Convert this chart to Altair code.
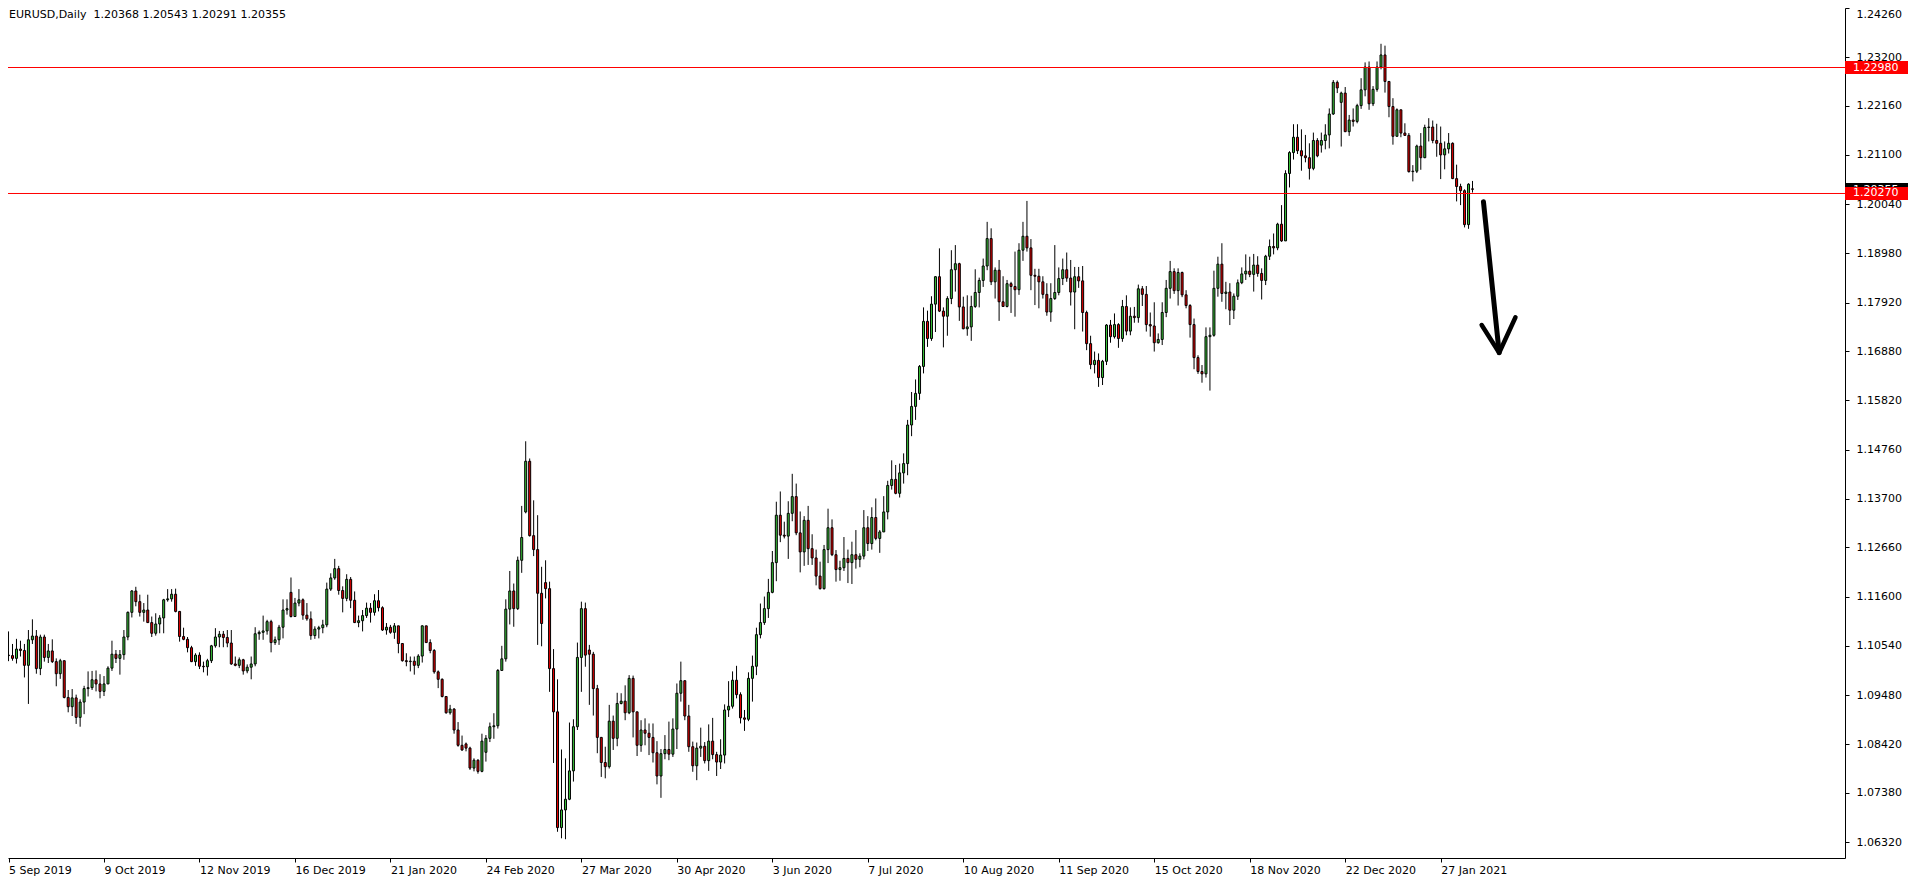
import altair as alt
import pandas as pd

# ---------------- data (prices in 1/10000 units) ----------------
symbol_title = "EURUSD,Daily\u00a0\u00a01.20368 1.20543 1.20291 1.20355"

first_open_pips = 11034

close_pips = [
    11033, 11027, 11047, 11044, 11012, 11067, 11075, 11005, 11073, 11029,
    11043, 11020, 10994, 11022, 10943, 10923, 10942, 10900, 10933, 10962,
    10964, 10981, 10972, 10956, 10972, 11006, 11036, 11027, 11035, 11073,
    11126, 11172, 11149, 11126, 11131, 11104, 11081, 11101, 11114, 11153,
    11155, 11165, 11128, 11074, 11068, 11050, 11020, 11034, 11010, 11009,
    11022, 11054, 11073, 11079, 11072, 11060, 11015, 11012, 11024, 11000,
    11008, 11015, 11080, 11083, 11086, 11106, 11061, 11067, 11094, 11131,
    11134, 11117, 11146, 11153, 11120, 11112, 11076, 11090, 11093, 11099,
    11176, 11200, 11220, 11173, 11156, 11197, 11152, 11104, 11108, 11119,
    11135, 11126, 11151, 11136, 11088, 11094, 11083, 11097, 11059, 11022,
    11020, 11021, 11012, 11032, 11097, 11061, 11044, 10998, 10982, 10945,
    10910, 10918, 10873, 10840, 10830, 10834, 10791, 10808, 10784, 10849,
    10855, 10880, 10882, 11001, 11026, 11133, 11172, 11134, 11238, 11287,
    11451, 11291, 11261, 11167, 11102, 11177, 11005, 10912, 10663, 10701,
    10724, 10785, 10880, 11029, 11134, 11034, 11036, 10962, 10857, 10803,
    10794, 10892, 10855, 10930, 10935, 10910, 10984, 10912, 10840, 10873,
    10866, 10857, 10824, 10774, 10822, 10831, 10821, 10875, 10952, 10979,
    10903, 10837, 10796, 10834, 10838, 10807, 10849, 10820, 10804, 10819,
    10916, 10924, 10980, 10949, 10899, 10896, 10984, 11010, 11078, 11104,
    11134, 11169, 11233, 11335, 11292, 11290, 11339, 11375, 11297, 11256,
    11324, 11263, 11243, 11204, 11177, 11261, 11308, 11250, 11218, 11222,
    11242, 11233, 11250, 11240, 11247, 11308, 11274, 11330, 11285, 11299,
    11342, 11399, 11412, 11382, 11426, 11446, 11529, 11569, 11597, 11655,
    11752, 11715, 11789, 11848, 11774, 11763, 11801, 11863, 11876, 11783,
    11736, 11740, 11784, 11814, 11840, 11871, 11930, 11837, 11862, 11794,
    11784, 11833, 11827, 11820, 11905, 11935, 11910, 11851, 11849, 11837,
    11810, 11772, 11801, 11814, 11844, 11863, 11845, 11815, 11848, 11839,
    11771, 11704, 11659, 11668, 11631, 11666, 11744, 11719, 11745, 11715,
    11784, 11731, 11763, 11760, 11822, 11810, 11745, 11742, 11706, 11713,
    11771, 11823, 11859, 11818, 11857, 11809, 11786, 11745, 11674, 11644,
    11639, 11719, 11722, 11823, 11875, 11812, 11815, 11776, 11806, 11835,
    11854, 11860, 11853, 11873, 11855, 11840, 11892, 11913, 11910, 11961,
    11925, 12070, 12115, 12148, 12119, 12108, 12104, 12081, 12141, 12108,
    12141, 12153, 12198, 12266, 12254, 12243, 12160, 12185, 12182, 12216,
    12250, 12299, 12220, 12251, 12299, 12325, 12268, 12214, 12150, 12207,
    12157, 12152, 12074, 12075, 12129, 12104, 12169, 12170, 12141, 12135,
    12110, 12123, 12135, 12059, 12042, 12033, 11960, 12047, 12036,
]

high_pips = [
    11085, 11058, 11069, 11065, 11058, 11088, 11111, 11088, 11078, 11078,
    11058, 11068, 11027, 11026, 11022, 10959, 10961, 10949, 10939, 10968,
    10999, 11000, 11001, 10993, 10989, 11010, 11065, 11045, 11045, 11088,
    11128, 11174, 11181, 11164, 11146, 11164, 11117, 11124, 11120, 11155,
    11176, 11176, 11177, 11129, 11093, 11073, 11054, 11038, 11040, 11020,
    11026, 11056, 11092, 11086, 11086, 11088, 11088, 11031, 11029, 11026,
    11014, 11031, 11094, 11087, 11119, 11110, 11110, 11074, 11099, 11154,
    11154, 11201, 11157, 11176, 11156, 11146, 11128, 11096, 11097, 11110,
    11190, 11210, 11241, 11226, 11182, 11208, 11202, 11171, 11119, 11131,
    11147, 11146, 11165, 11174, 11139, 11103, 11099, 11103, 11097, 11059,
    11038, 11031, 11031, 11036, 11098, 11097, 11068, 11047, 11001, 10984,
    10946, 10927, 10920, 10890, 10861, 10846, 10837, 10812, 10810, 10865,
    10862, 10889, 10909, 11004, 11054, 11154, 11215, 11188, 11246, 11355,
    11494, 11457, 11367, 11335, 11224, 11238, 11192, 11047, 10982, 10831,
    10812, 10889, 10896, 11061, 11149, 11147, 11056, 11041, 10970, 10858,
    10837, 10927, 10904, 10953, 10952, 10969, 10991, 10990, 10912, 10894,
    10898, 10887, 10887, 10849, 10832, 10862, 10891, 10898, 10973, 11020,
    10979, 10927, 10848, 10846, 10878, 10847, 10885, 10899, 10826, 10853,
    10928, 10978, 10999, 11011, 10954, 10916, 10997, 11033, 11093, 11145,
    11160, 11198, 11258, 11364, 11386, 11321, 11365, 11424, 11403, 11343,
    11333, 11355, 11294, 11261, 11235, 11271, 11349, 11326, 11260, 11237,
    11288, 11261, 11278, 11303, 11253, 11346, 11333, 11352, 11371, 11303,
    11376, 11409, 11453, 11443, 11446, 11468, 11540, 11600, 11627, 11658,
    11782, 11775, 11806, 11849, 11909, 11782, 11806, 11905, 11916, 11878,
    11805, 11808, 11807, 11864, 11846, 11887, 11966, 11952, 11868, 11884,
    11849, 11841, 11837, 11902, 11920, 11966, 12011, 11929, 11865, 11865,
    11849, 11834, 11834, 11916, 11868, 11887, 11900, 11884, 11869, 11869,
    11871, 11775, 11721, 11687, 11683, 11669, 11746, 11755, 11769, 11748,
    11798, 11808, 11782, 11783, 11831, 11828, 11828, 11771, 11793, 11726,
    11793, 11841, 11882, 11866, 11866, 11859, 11819, 11789, 11758, 11679,
    11658, 11739, 11739, 11861, 11891, 11920, 11837, 11834, 11812, 11842,
    11868, 11896, 11891, 11897, 11892, 11866, 11895, 11928, 11941, 11964,
    12002, 12077, 12118, 12176, 12176, 12165, 12153, 12135, 12158, 12146,
    12158, 12176, 12210, 12271, 12270, 12246, 12256, 12196, 12210, 12220,
    12275, 12309, 12311, 12258, 12311, 12349, 12345, 12268, 12232, 12210,
    12207, 12178, 12157, 12088, 12132, 12157, 12175, 12189, 12184, 12177,
    12171, 12139, 12157, 12137, 12089, 12048, 12036, 12049, 12054,
]

low_pips = [
    11021, 11022, 11016, 11031, 10986, 10929, 11058, 10994, 10991, 11020,
    11017, 11017, 10967, 10983, 10941, 10911, 10903, 10886, 10880, 10907,
    10945, 10959, 10956, 10941, 10946, 10972, 11000, 11017, 10992, 11024,
    11066, 11115, 11139, 11117, 11106, 11103, 11073, 11076, 11081, 11081,
    11149, 11149, 11126, 11063, 11066, 11040, 11019, 11011, 11004, 10997,
    10990, 11017, 11050, 11051, 11051, 11051, 11013, 11010, 11006, 10992,
    10995, 10982, 11010, 11067, 11067, 11078, 11040, 11056, 11056, 11070,
    11121, 11115, 11124, 11139, 11110, 11108, 11067, 11069, 11070, 11081,
    11094, 11172, 11196, 11164, 11126, 11150, 11135, 11103, 11094, 11085,
    11114, 11104, 11119, 11128, 11086, 11078, 11080, 11069, 11038, 11020,
    11010, 10999, 10992, 11006, 11018, 11060, 11038, 10994, 10963, 10943,
    10908, 10906, 10865, 10837, 10828, 10827, 10787, 10784, 10779, 10782,
    10805, 10847, 10854, 10876, 11002, 11020, 11100, 11095, 11131, 11211,
    11339, 11289, 11247, 11056, 11053, 11156, 10955, 10802, 10654, 10640,
    10638, 10722, 10762, 10873, 10955, 11009, 10927, 10904, 10823, 10772,
    10769, 10790, 10830, 10838, 10928, 10894, 10907, 10857, 10817, 10826,
    10840, 10819, 10803, 10756, 10727, 10810, 10808, 10815, 10832, 10934,
    10894, 10826, 10783, 10765, 10815, 10801, 10785, 10810, 10774, 10789,
    10801, 10901, 10919, 10941, 10887, 10871, 10892, 10934, 10991, 11070,
    11099, 11114, 11167, 11193, 11277, 11285, 11241, 11322, 11292, 11212,
    11226, 11228, 11228, 11184, 11175, 11175, 11232, 11247, 11192, 11194,
    11215, 11189, 11187, 11220, 11223, 11240, 11258, 11261, 11281, 11254,
    11301, 11326, 11390, 11380, 11373, 11403, 11421, 11505, 11540, 11583,
    11640, 11697, 11710, 11729, 11772, 11696, 11721, 11789, 11816, 11753,
    11735, 11721, 11710, 11781, 11782, 11826, 11862, 11830, 11801, 11753,
    11783, 11782, 11770, 11762, 11809, 11882, 11902, 11819, 11787, 11780,
    11801, 11764, 11751, 11798, 11808, 11830, 11837, 11786, 11735, 11824,
    11730, 11690, 11649, 11640, 11611, 11615, 11658, 11706, 11715, 11695,
    11708, 11722, 11722, 11749, 11749, 11785, 11730, 11719, 11687, 11704,
    11701, 11761, 11801, 11811, 11786, 11804, 11780, 11717, 11649, 11639,
    11620, 11631, 11603, 11719, 11805, 11794, 11778, 11744, 11757, 11798,
    11832, 11841, 11847, 11816, 11848, 11799, 11830, 11884, 11896, 11905,
    11923, 11925, 12040, 12100, 12112, 12076, 12094, 12057, 12077, 12105,
    12115, 12122, 12124, 12196, 12243, 12128, 12159, 12151, 12171, 12178,
    12209, 12236, 12207, 12215, 12246, 12294, 12244, 12191, 12132, 12150,
    12148, 12151, 12072, 12053, 12071, 12078, 12103, 12139, 12135, 12106,
    12058, 12079, 12113, 12058, 12010, 12002, 11954, 11951, 12029,
]

# opens that differ from the previous close (weekend / news gaps)
gap_open_pips = {71: 11169, 115: 10843, 120: 10825, 130: 11342, 135: 11190,
                 146: 11045, 330: 12131, 335: 12223, 368: 12037}

time_tick_bars = [0, 24, 48, 72, 96, 120, 144, 168, 192, 216, 240, 264, 288, 312, 336, 360]
time_tick_labels = ["5 Sep 2019", "9 Oct 2019", "12 Nov 2019", "16 Dec 2019", "21 Jan 2020",
                    "24 Feb 2020", "27 Mar 2020", "30 Apr 2020", "3 Jun 2020", "7 Jul 2020",
                    "10 Aug 2020", "11 Sep 2020", "15 Oct 2020", "18 Nov 2020", "22 Dec 2020",
                    "27 Jan 2021"]

price_ticks = [1.24260, 1.23200, 1.22160, 1.21100, 1.20040, 1.18980, 1.17920, 1.16880, 1.15820,
               1.14760, 1.13700, 1.12660, 1.11600, 1.10540, 1.09480, 1.08420, 1.07380, 1.06320]

level_prices = [1.22980, 1.20270]
level_labels = ["1.22980", "1.20270"]
current_price = [1.20355]
current_label = ["1.20355"]

arrow_shaft_bar = [370.75, 374.7]
arrow_shaft_price = [1.20094, 1.16845]
arrow_head_bar = [370.3, 374.7, 378.8]
arrow_head_price = [1.17441, 1.16845, 1.17607]

# ---------------- table ----------------
n = len(close_pips)
open_pips = [first_open_pips] + close_pips[:-1]
for k, v in gap_open_pips.items():
    open_pips[k] = v

df = pd.DataFrame({
    "bar": list(range(n)),
    "open": [v / 10000 for v in open_pips],
    "high": [v / 10000 for v in high_pips],
    "low": [v / 10000 for v in low_pips],
    "close": [v / 10000 for v in close_pips],
})
df["dir"] = ["up" if c >= o else "down" for o, c in zip(df["open"], df["close"])]

PLOT_W, PLOT_H = 1837, 850
GREEN = "#38c038"
RED = "#e60000"
FONT = "DejaVu Sans"

xs = alt.Scale(domain=[1.125, 460.375], nice=False, zero=False)
ys = alt.Scale(domain=[1.05976, 1.2426], nice=False, zero=False)

label_expr = ("[" + ",".join("'" + t + "'" for t in time_tick_labels) + "][indexof(["
              + ",".join(str(b) for b in time_tick_bars) + "], datum.value)]")

x_axis = alt.Axis(values=time_tick_bars, labelExpr=label_expr, orient="bottom", title=None,
                  grid=False, domainColor="black", domainWidth=1, tickColor="black",
                  tickSize=4, tickWidth=1, labelAlign="left", labelBaseline="top",
                  labelPadding=2, labelFont=FONT, labelFontSize=11,
                  labelColor="black", labelFlush=False, labelOverlap=False)

y_axis = alt.Axis(values=price_ticks, format=".5f", orient="right", title=None, grid=False,
                  domainColor="black", domainWidth=1, tickColor="black", tickSize=4,
                  tickWidth=1, labelPadding=7, labelFont=FONT, labelFontSize=11,
                  labelColor="black", labelFlush=True, labelOverlap=False)


def X(field):
    return alt.X(field, scale=xs, axis=x_axis)


def Y(field):
    return alt.Y(field, scale=ys, axis=y_axis)


wicks = alt.Chart(df).mark_rule(color="black", strokeWidth=1).encode(
    x=X("bar:Q"), y=Y("low:Q"), y2="high:Q",
)

bodies = alt.Chart(df).mark_bar(size=2, stroke="black", strokeWidth=1, opacity=1).encode(
    x=X("bar:Q"), y=Y("open:Q"), y2="close:Q",
    fill=alt.Fill("dir:N", scale=alt.Scale(domain=["up", "down"], range=[GREEN, RED]), legend=None),
)

levels_df = pd.DataFrame({"price": level_prices, "label": level_labels})
level_rules = alt.Chart(levels_df).mark_rule(color="#ff0000", strokeWidth=1).encode(
    y=Y("price:Q"),
)

shaft_df = pd.DataFrame({"bar": arrow_shaft_bar, "price": arrow_shaft_price, "k": [0, 1]})
head_df = pd.DataFrame({"bar": arrow_head_bar, "price": arrow_head_price, "k": [0, 1, 2]})
arrow_shaft = alt.Chart(shaft_df).mark_line(color="black", strokeWidth=5, strokeCap="round").encode(
    x=X("bar:Q"), y=Y("price:Q"), order="k:Q",
)
arrow_head = alt.Chart(head_df).mark_line(color="black", strokeWidth=4.5, strokeCap="round",
                                          strokeJoin="round").encode(
    x=X("bar:Q"), y=Y("price:Q"), order="k:Q",
)

BOX_W = 63
BOX_PATH = "M-1,-0.206L1,-0.206L1,0.206L-1,0.206Z"
box_x = PLOT_W + BOX_W / 2

cur_df = pd.DataFrame({"price": current_price, "label": current_label})
cur_box = alt.Chart(cur_df).mark_point(shape=BOX_PATH, size=BOX_W * BOX_W, filled=True,
                                       opacity=1, color="black", strokeWidth=0).encode(
    x=alt.value(box_x), y=Y("price:Q"))
cur_text = alt.Chart(cur_df).mark_text(align="left", baseline="middle", font=FONT, fontSize=11,
                                       color="white").encode(
    x=alt.value(PLOT_W + 8), y=Y("price:Q"), text="label:N")

lvl_box = alt.Chart(levels_df).mark_point(shape=BOX_PATH, size=BOX_W * BOX_W, filled=True,
                                          opacity=1, color="#ff0000", strokeWidth=0).encode(
    x=alt.value(box_x), y=Y("price:Q"))
lvl_text = alt.Chart(levels_df).mark_text(align="left", baseline="middle", font=FONT, fontSize=11,
                                          color="white").encode(
    x=alt.value(PLOT_W + 8), y=Y("price:Q"), text="label:N")

title_df = pd.DataFrame({"t": [symbol_title]})
title = alt.Chart(title_df).mark_text(align="left", baseline="top", font=FONT, fontSize=11,
                                      color="black").encode(
    x=alt.value(1), y=alt.value(1), text="t:N")

chart = alt.layer(
    wicks, bodies, level_rules, arrow_shaft, arrow_head,
    cur_box, cur_text, lvl_box, lvl_text, title,
).properties(
    width=PLOT_W,
    height=PLOT_H,
    autosize=alt.AutoSizeParams(type="none"),
    padding={"left": 0, "top": 0, "right": 63, "bottom": 18},
    background="white",
).configure_view(stroke=None)

chart.save("out.html", embed_options={"renderer": "svg", "actions": False})
